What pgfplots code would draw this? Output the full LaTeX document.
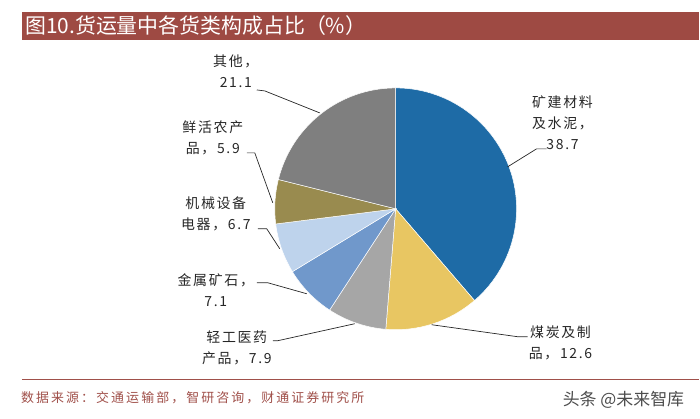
\documentclass[border=0pt]{standalone}
\usepackage{fontspec}
\usepackage{pgfplots}
\usepackage{pgfplotstable}
\pgfplotsset{compat=1.18}

\newfontfamily\cjk{Noto Sans CJK SC}
\newfontfamily\cjklab[LetterSpace=12]{Noto Sans CJK SC}
\newfontfamily\cjksrc[LetterSpace=16]{Noto Sans CJK SC}

\definecolor{titlebar}{HTML}{9E4A43}
\definecolor{srcred}{HTML}{A0504A}
\definecolor{c0}{HTML}{1E6BA6}
\definecolor{c1}{HTML}{E8C662}
\definecolor{c2}{HTML}{A6A6A6}
\definecolor{c3}{HTML}{7098CB}
\definecolor{c4}{HTML}{BED3EC}
\definecolor{c5}{HTML}{998B4F}
\definecolor{c6}{HTML}{7F7F7F}

% share of each cargo class, clockwise from the top
\pgfplotstableread{
idx value
0 38.7
1 12.6
2 7.9
3 7.1
4 6.7
5 5.9
6 21.1
}\piedata

% start/end angle of every slice
\xdef\cumang{90}
\foreach \i in {0,...,6}{%
  \pgfplotstablegetelem{\i}{value}\of\piedata
  \pgfmathsetmacro\nextang{\cumang-3.6*\pgfplotsretval}%
  \expandafter\xdef\csname pieS\i\endcsname{\cumang}%
  \expandafter\xdef\csname pieE\i\endcsname{\nextang}%
  \xdef\cumang{\nextang}%
}

\begin{document}
\begin{tikzpicture}
\begin{axis}[
    hide axis, scale only axis,
    width=700bp, height=419bp,
    xmin=0, xmax=700, ymin=0, ymax=419,
    clip=false
]
    % keep the whole canvas in the bounding box
    \path (axis cs:0,0) rectangle (axis cs:700,419);

    % slices
    \pgfplotsinvokeforeach{0,...,6}{
        \fill[c#1, draw=white, line width=0.5pt] (axis cs:396,210)
            -- ++(\csname pieS#1\endcsname:121bp)
            arc[start angle=\csname pieS#1\endcsname,
                end angle=\csname pieE#1\endcsname, radius=121bp]
            -- cycle;
    }

    % title bar
    \fill[titlebar] (axis cs:22,407) rectangle (axis cs:700,379);
    \node[anchor=west, text=white, inner sep=0pt,
          font=\cjk\fontsize{21}{21}\selectfont] at (axis cs:25,393)
        {图10.货运量中各货类构成占比（\%）};

    % leaders
    \begin{scope}[line width=0.7pt, black!85]
        \draw (axis cs:508,252) -- (axis cs:537,270) -- (axis cs:547,270);
        \draw (axis cs:432,94) -- (axis cs:518,82) -- (axis cs:528,82);
        \draw (axis cs:257,329) -- (axis cs:265,328) -- (axis cs:320,306);
        \draw (axis cs:247,266) -- (axis cs:255,266) -- (axis cs:273,216);
        \draw (axis cs:258,190) -- (axis cs:267,190) -- (axis cs:280,170);
        \draw (axis cs:257,136) -- (axis cs:268,136) -- (axis cs:307,125);
        \draw (axis cs:273,78) -- (axis cs:278,78) -- (axis cs:355,95);
    \end{scope}

    % labels
    \begin{scope}[every node/.style={align=center, inner sep=0pt, text=black!85,
                  font=\cjklab\fontsize{14}{21}\selectfont}]
        \node at (axis cs:563,296) {矿建材料\\及水泥，\\38.7};
        \node at (axis cs:561,76)  {煤炭及制\\品，12.6};
        \node at (axis cs:237,71)  {轻工医药\\产品，7.9};
        \node at (axis cs:216,129) {金属矿石，\\7.1};
        \node at (axis cs:216,205) {机械设备\\电器，6.7};
        \node at (axis cs:213,281) {鲜活农产\\品，5.9};
        \node at (axis cs:236,348) {其他，\\21.1};
    \end{scope}

    % footer
    \draw[srcred, line width=1.2pt] (axis cs:22,39) -- (axis cs:700,39);
    \node[anchor=west, text=srcred, inner sep=0pt,
          font=\cjksrc\fontsize{13}{13}\selectfont] at (axis cs:21,21)
        {数据来源：交通运输部，智研咨询，财通证券研究所};
    \node[anchor=center, text=black!70, inner sep=0pt,
          font=\cjk\fontsize{17}{17}\selectfont] at (axis cs:624,19)
        {头条 @未来智库};
\end{axis}
\end{tikzpicture}
\end{document}
